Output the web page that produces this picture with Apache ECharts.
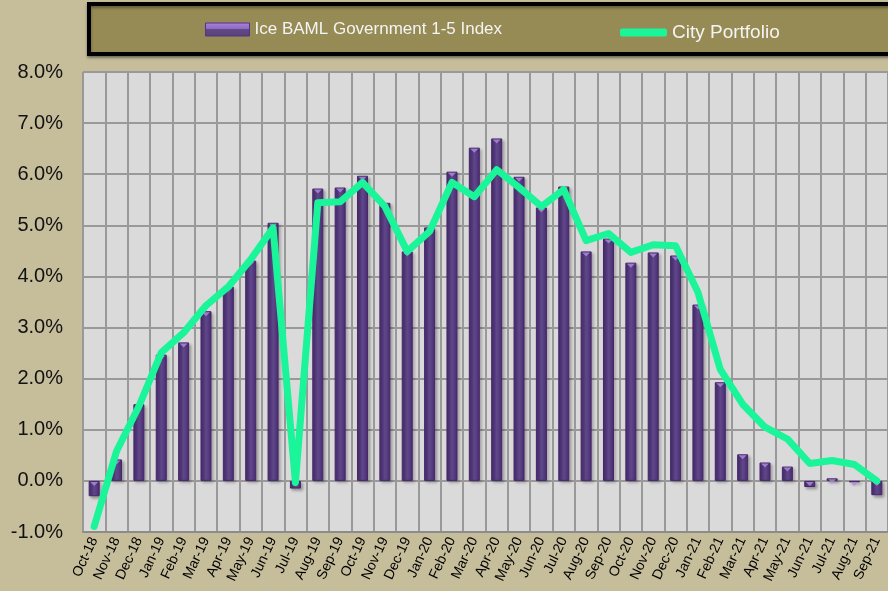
<!DOCTYPE html>
<html>
<head>
<meta charset="utf-8">
<script src="https://cdn.jsdelivr.net/npm/echarts@6/dist/echarts.min.js"></script>
<style>
  html, body { margin: 0; padding: 0; background: #c6bd9b; }
  #main { width: 888px; height: 591px; }
</style>
</head>
<body>
<div id="main"></div>
<script>
// months on the x axis
var months = ['Oct-18', 'Nov-18', 'Dec-18', 'Jan-19', 'Feb-19', 'Mar-19', 'Apr-19', 'May-19', 'Jun-19',
  'Jul-19', 'Aug-19', 'Sep-19', 'Oct-19', 'Nov-19', 'Dec-19', 'Jan-20', 'Feb-20', 'Mar-20', 'Apr-20',
  'May-20', 'Jun-20', 'Jul-20', 'Aug-20', 'Sep-20', 'Oct-20', 'Nov-20', 'Dec-20', 'Jan-21', 'Feb-21',
  'Mar-21', 'Apr-21', 'May-21', 'Jun-21', 'Jul-21', 'Aug-21', 'Sep-21'];

// Ice BAML Government 1-5 Index (bars), percent
var indexValues = [-0.30, 0.42, 1.50, 2.47, 2.71, 3.32, 3.80, 4.31, 5.05,
  -0.15, 5.72, 5.74, 5.97, 5.44, 4.49, 4.96, 6.05, 6.52, 6.70,
  5.95, 5.35, 5.76, 4.49, 4.74, 4.27, 4.47, 4.41, 3.45, 1.93,
  0.52, 0.36, 0.28, -0.12, 0.05, -0.03, -0.28];

// City Portfolio (line), percent
var cityValues = [-0.89, 0.58, 1.46, 2.51, 2.90, 3.43, 3.80, 4.33, 4.95,
  -0.03, 5.44, 5.46, 5.84, 5.37, 4.49, 4.88, 5.84, 5.56, 6.09,
  5.74, 5.37, 5.70, 4.70, 4.84, 4.47, 4.62, 4.60, 3.69, 2.18,
  1.50, 1.05, 0.82, 0.34, 0.40, 0.32, 0.00];

var seriesNames = ['Ice BAML Government 1-5 Index', 'City Portfolio'];

var myChart = echarts.init(document.getElementById('main'));

// small light cap on the top face of each bar
var capValues = indexValues.map(function (v) { return Math.max(v, 0); });

var barColor = new echarts.graphic.LinearGradient(0, 0, 1, 0, [
  { offset: 0, color: '#4a2a73' },
  { offset: 0.5, color: '#60498a' },
  { offset: 1, color: '#4a2a73' }
]);

myChart.setOption({
  backgroundColor: '#c6bd9b',
  animation: false,
  graphic: [{
    type: 'rect',
    left: 87,
    top: 2,
    shape: { width: 900, height: 50 },
    style: {
      fill: '#968b55',
      stroke: '#000',
      lineWidth: 4,
      shadowColor: 'rgba(0,0,0,0.35)',
      shadowBlur: 3,
      shadowOffsetY: 2
    },
    z: -1
  }],
  legend: [{
    left: 205,
    top: 21,
    padding: 0,
    itemWidth: 44,
    itemHeight: 13,
    textStyle: { color: '#f4f4f4', fontSize: 17, fontFamily: 'Liberation Sans' },
    data: [{
      name: seriesNames[0],
      icon: 'rect',
      itemStyle: {
        color: new echarts.graphic.LinearGradient(0, 0, 0, 1, [
          { offset: 0, color: '#a985dc' },
          { offset: 0.45, color: '#8e69c4' },
          { offset: 0.5, color: '#5f4a86' },
          { offset: 1, color: '#574278' }
        ]),
        borderColor: '#5a2f8a',
        borderWidth: 1
      }
    }]
  }, {
    left: 620,
    top: 23,
    padding: 0,
    itemWidth: 47,
    itemHeight: 8,
    textStyle: { color: '#f4f4f4', fontSize: 19, fontFamily: 'Liberation Sans' },
    data: [{
      name: seriesNames[1],
      icon: 'roundRect',
      itemStyle: { color: '#1af59a' }
    }]
  }],
  grid: {
    left: 83,
    right: -3,
    top: 72,
    bottom: 59
  },
  xAxis: {
    type: 'category',
    data: months,
    boundaryGap: true,
    axisLine: { onZero: false, lineStyle: { color: '#8c8c8c', width: 2 } },
    axisTick: { show: false },
    axisLabel: {
      interval: 0,
      rotate: 65,
      margin: 6,
      color: '#000',
      fontSize: 14,
      fontFamily: 'Liberation Sans'
    },
    splitLine: { show: true, interval: 0, lineStyle: { color: '#999', width: 2 } },
    splitArea: { show: false }
  },
  yAxis: {
    type: 'value',
    min: -1,
    max: 8,
    interval: 1,
    axisLine: { show: false },
    axisTick: { show: false },
    axisLabel: {
      margin: 20,
      color: '#111',
      fontSize: 20,
      fontFamily: 'Liberation Sans',
      formatter: function (v) { return v.toFixed(1) + '%'; }
    },
    splitLine: { lineStyle: { color: '#999', width: 2 } },
    splitArea: { show: true, areaStyle: { color: ['#dadada', '#dadada'] } }
  },
  series: [
    {
      name: seriesNames[0],
      type: 'bar',
      data: indexValues,
      barWidth: 11,
      itemStyle: {
        color: barColor,
        borderColor: '#462768',
        borderWidth: 1,
        shadowColor: 'rgba(0,0,0,0.3)',
        shadowBlur: 3,
        shadowOffsetX: 2,
        shadowOffsetY: 2
      },
      z: 2
    },
    {
      name: 'cap',
      type: 'scatter',
      data: capValues,
      symbol: 'path://M0,0 L10,0 L5,6 Z',
      symbolSize: [8, 4],
      symbolOffset: [0, 3],
      itemStyle: { color: '#b08be3' },
      silent: true,
      z: 3
    },
    {
      name: seriesNames[1],
      type: 'line',
      data: cityValues,
      symbol: 'none',
      lineStyle: { color: '#1af59a', width: 7, cap: 'round', join: 'round' },
      itemStyle: { color: '#1af59a' },
      z: 5
    }
  ]
});
</script>
</body>
</html>
